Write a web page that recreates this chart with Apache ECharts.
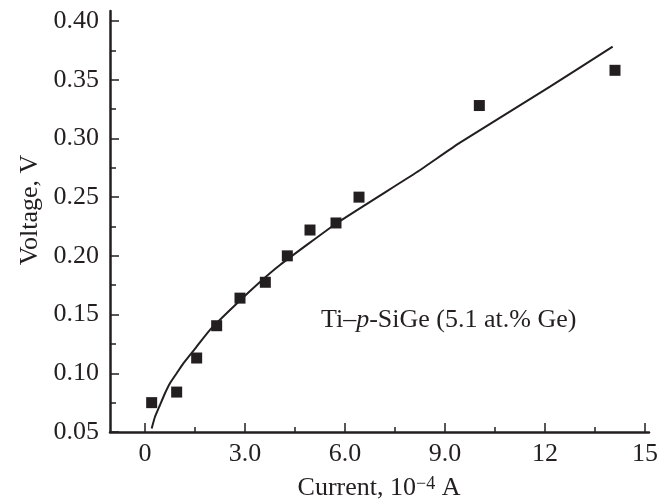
<!DOCTYPE html>
<html>
<head>
<meta charset="utf-8">
<script src="https://cdn.jsdelivr.net/npm/echarts@6/dist/echarts.min.js"></script>
<style>
  html, body { margin: 0; padding: 0; background: #fff; }
  #chart { width: 668px; height: 501px; }
</style>
</head>
<body>
<div id="chart"></div>
<script>
// measured points (current in 10^-4 A, voltage in V)
var currentPts = [0.20, 0.95, 1.55, 2.15, 2.85, 3.61, 4.27, 4.95, 5.73, 6.42, 10.03, 14.10];
var voltagePts = [0.075, 0.084, 0.113, 0.1405, 0.164, 0.1775, 0.200, 0.222, 0.228, 0.250, 0.328, 0.358];

// fitted curve
var fitCurrent = [0.20, 0.30, 0.45, 0.60, 0.75, 0.95, 1.15, 1.55, 1.95, 2.55, 3.30, 4.05, 5.75, 8.15, 9.45, 12.15, 14.03];
var fitVoltage = [0.053, 0.063, 0.073, 0.083, 0.0915, 0.100, 0.1085, 0.1227, 0.1369, 0.1539, 0.174, 0.1922, 0.2278, 0.2712, 0.2964, 0.3441, 0.3782];

// ticks
var xMajor = [0, 3, 6, 9, 12, 15];
var xMajorLabels = ['0', '3.0', '6.0', '9.0', '12', '15'];
var xMinor = [1.5, 4.5, 7.5, 10.5, 13.5];
var yMajor = [0.05, 0.10, 0.15, 0.20, 0.25, 0.30, 0.35, 0.40];
var yMinor = [0.075, 0.125, 0.175, 0.225, 0.275, 0.325, 0.375];

var ink = '#231f20';
var font = '"Liberation Serif", "Times New Roman", serif';

function zip(a, b) {
  return a.map(function (v, i) { return [v, b[i]]; });
}

var mycharts = echarts.init(document.getElementById('chart'), null, { renderer: 'canvas' });

var option = {
  animation: false,
  backgroundColor: '#fff',
  grid: { left: 110, right: 19, top: 11, bottom: 69, containLabel: false },
  xAxis: [
    {
      type: 'value', min: -1.05, max: 15.12, position: 'bottom',
      axisLine: { show: true, onZero: false, lineStyle: { color: ink, width: 2.5 } },
      axisTick: { show: true, inside: true, length: 9, customValues: xMajor, lineStyle: { color: ink, width: 1.5 } },
      axisLabel: {
        customValues: xMajor, margin: 9, color: ink, fontFamily: font, fontSize: 26,
        formatter: function (v) { return xMajorLabels[xMajor.indexOf(v)]; }
      },
      splitLine: { show: false }
    },
    {
      type: 'value', min: -1.05, max: 15.12, position: 'bottom',
      axisLine: { show: false, onZero: false },
      axisTick: { show: true, inside: true, length: 5, customValues: xMinor, lineStyle: { color: ink, width: 1.5 } },
      axisLabel: { show: false },
      splitLine: { show: false }
    }
  ],
  yAxis: [
    {
      type: 'value', min: 0.05, max: 0.4085, position: 'left',
      axisLine: { show: true, onZero: false, lineStyle: { color: ink, width: 2.5 } },
      axisTick: { show: true, inside: true, length: 9, customValues: yMajor, lineStyle: { color: ink, width: 1.5 } },
      axisLabel: {
        customValues: yMajor, margin: 11, color: ink, fontFamily: font, fontSize: 26,
        formatter: function (v) { return v.toFixed(2); }
      },
      splitLine: { show: false }
    },
    {
      type: 'value', min: 0.05, max: 0.4085, position: 'left',
      axisLine: { show: false, onZero: false },
      axisTick: { show: true, inside: true, length: 6, customValues: yMinor, lineStyle: { color: ink, width: 1.5 } },
      axisLabel: { show: false },
      splitLine: { show: false }
    }
  ],
  series: [
    {
      name: 'fit', type: 'line', xAxisIndex: 0, yAxisIndex: 0,
      data: zip(fitCurrent, fitVoltage),
      smooth: 0.15, showSymbol: false,
      lineStyle: { color: ink, width: 2 }
    },
    {
      name: 'Ti-p-SiGe', type: 'scatter', xAxisIndex: 0, yAxisIndex: 0,
      data: zip(currentPts, voltagePts),
      symbol: 'rect', symbolSize: 11,
      itemStyle: { color: ink, opacity: 1 }
    }
  ],
  graphic: [
    {
      type: 'text', x: 30, y: 210, rotation: Math.PI / 2,
      style: {
        text: 'Voltage, V', fill: ink, font: '26px ' + font,
        textAlign: 'center', textVerticalAlign: 'middle'
      }
    },
    {
      type: 'text', x: 379, y: 488,
      style: {
        text: '{n|Current, 10}{s|−4}{n| A}',
        textAlign: 'center', textVerticalAlign: 'middle',
        rich: {
          n: { fontFamily: font, fontSize: 26, fill: ink, color: ink, verticalAlign: 'bottom' },
          s: { fontFamily: font, fontSize: 18, fill: ink, color: ink, verticalAlign: 'top' }
        }
      }
    },
    {
      type: 'text', x: 321, y: 320,
      style: {
        text: '{n|Ti–}{i|p}{n|-SiGe (5.1 at.% Ge)}',
        textAlign: 'left', textVerticalAlign: 'middle',
        rich: {
          n: { fontFamily: font, fontSize: 26, fill: ink, color: ink },
          i: { fontFamily: font, fontSize: 26, fontStyle: 'italic', fill: ink, color: ink }
        }
      }
    }
  ]
};
mycharts.setOption(option);
</script>
</body>
</html>
